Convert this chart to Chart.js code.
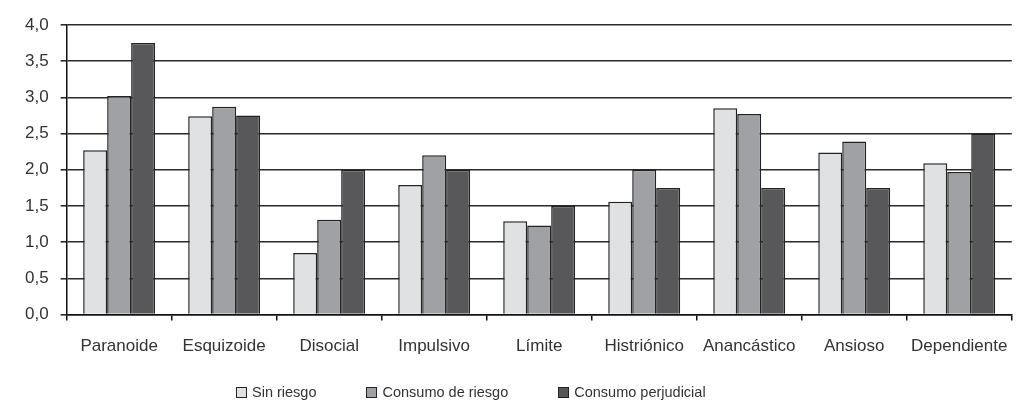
<!DOCTYPE html>
<html>
<head>
<meta charset="utf-8">
<script src="https://cdn.jsdelivr.net/npm/chart.js@4.4.1/dist/chart.umd.min.js"></script>
<style>
  html, body { margin: 0; padding: 0; background: #fff; }
  #wrap { position: relative; width: 1024px; height: 409px; }
  #legend {
    position: absolute; left: 236px; top: 384px;
    display: flex; gap: 50px;
    font: 14.5px "Liberation Sans", Arial, sans-serif; color: #333;
  }
  #legend .item { display: flex; align-items: center; }
  #legend .box { width: 9px; height: 9px; border: 1px solid #222; margin-right: 5px; }
</style>
</head>
<body>
<div id="wrap">
  <canvas id="chart" width="1024" height="409"></canvas>
  <div id="legend"></div>
</div>
<script>
// Perfil de personalidad por nivel de consumo
const categories = ['Paranoide', 'Esquizoide', 'Disocial', 'Impulsivo', 'Límite', 'Histriónico', 'Anancástico', 'Ansioso', 'Dependiente'];
const seriesNames = ['Sin riesgo', 'Consumo de riesgo', 'Consumo perjudicial'];
const sinRiesgo = [2.27, 2.74, 0.85, 1.79, 1.29, 1.56, 2.85, 2.24, 2.09];
const consumoRiesgo = [3.02, 2.87, 1.31, 2.20, 1.23, 2.00, 2.77, 2.39, 1.97];
const consumoPerjudicial = [3.75, 2.75, 2.00, 2.00, 1.50, 1.75, 1.75, 1.75, 2.50];
const colors = ['#e0e1e3', '#a0a1a4', '#58585a'];

const FONT = '"Liberation Sans", Arial, sans-serif';

const datasets = [sinRiesgo, consumoRiesgo, consumoPerjudicial].map((data, i) => ({
  label: seriesNames[i],
  data,
  backgroundColor: colors[i],
  borderColor: '#222',
  borderWidth: 1.5,
  categoryPercentage: 0.685,
  barPercentage: 1.0,
}));

// HTML legend (kept off-centre like the original)
document.getElementById('legend').innerHTML = seriesNames.map((name, i) => `
  <div class="item"><span class="box" style="background:${colors[i]}"></span><span>${name}</span></div>
`).join('');

new Chart(document.getElementById('chart'), {
  type: 'bar',
  data: { labels: categories, datasets },
  options: {
    responsive: false,
    animation: false,
    layout: { padding: { left: 13, right: 10, top: 25, bottom: 36 } },
    plugins: {
      legend: { display: false },
      tooltip: { enabled: false },
    },
    scales: {
      x: {
        border: { color: '#111', width: 1.5 },
        grid: { drawOnChartArea: false, color: '#111', lineWidth: 1.5, tickLength: 6, offset: true },
        ticks: { color: '#333', font: { family: FONT, size: 17 }, padding: 16, maxRotation: 0 },
      },
      y: {
        min: 0,
        max: 4,
        border: { color: '#111', width: 1.5 },
        grid: { color: '#2a2a2a', lineWidth: 1.6, tickLength: 6 },
        ticks: {
          stepSize: 0.5,
          color: '#333',
          padding: 12,
          font: { family: FONT, size: 17 },
          callback: (v) => v.toFixed(1).replace('.', ','),
        },
      },
    },
  },
});
</script>
</body>
</html>
